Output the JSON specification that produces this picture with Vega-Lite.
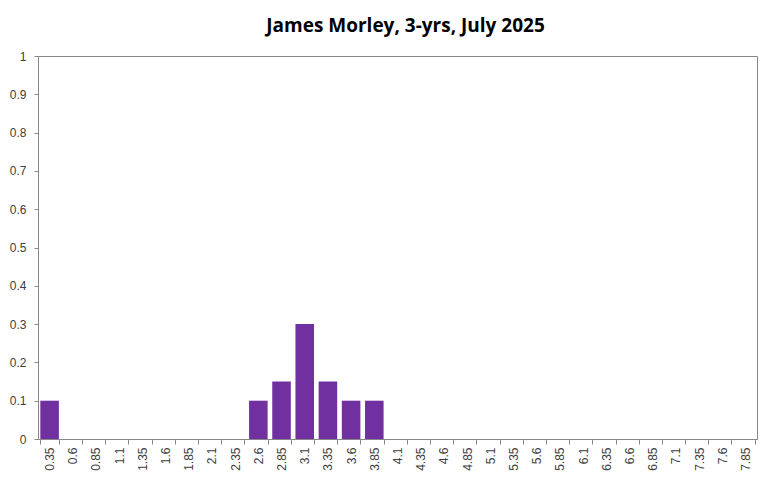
{
  "$schema": "https://vega.github.io/schema/vega-lite/v6.json",
  "width": 719,
  "height": 383,
  "autosize": {"type": "none"},
  "padding": {"left": 38, "top": 56, "right": 15, "bottom": 43},
  "background": "white",
  "title": {
    "text": "James Morley, 3-yrs, July 2025",
    "font": "Open Sans",
    "fontSize": 19,
    "fontWeight": "bold",
    "color": "#000000",
    "anchor": "middle",
    "dx": 8,
    "offset": 14
  },
  "data": {
    "values": [
      {"k": "0.35", "v": 0.1},
      {"k": "0.6", "v": 0},
      {"k": "0.85", "v": 0},
      {"k": "1.1", "v": 0},
      {"k": "1.35", "v": 0},
      {"k": "1.6", "v": 0},
      {"k": "1.85", "v": 0},
      {"k": "2.1", "v": 0},
      {"k": "2.35", "v": 0},
      {"k": "2.6", "v": 0.1},
      {"k": "2.85", "v": 0.15},
      {"k": "3.1", "v": 0.3},
      {"k": "3.35", "v": 0.15},
      {"k": "3.6", "v": 0.1},
      {"k": "3.85", "v": 0.1},
      {"k": "4.1", "v": 0},
      {"k": "4.35", "v": 0},
      {"k": "4.6", "v": 0},
      {"k": "4.85", "v": 0},
      {"k": "5.1", "v": 0},
      {"k": "5.35", "v": 0},
      {"k": "5.6", "v": 0},
      {"k": "5.85", "v": 0},
      {"k": "6.1", "v": 0},
      {"k": "6.35", "v": 0},
      {"k": "6.6", "v": 0},
      {"k": "6.85", "v": 0},
      {"k": "7.1", "v": 0},
      {"k": "7.35", "v": 0},
      {"k": "7.6", "v": 0},
      {"k": "7.85", "v": 0}
    ]
  },
  "mark": {"type": "bar", "color": "#7030A0"},
  "encoding": {
    "x": {
      "field": "k",
      "type": "ordinal",
      "sort": null,
      "scale": {"paddingInner": 0.2, "paddingOuter": 0.1},
      "axis": {
        "title": null,
        "labelAngle": -90,
        "labelAlign": "right",
        "labelBaseline": "middle",
        "labelFont": "Liberation Sans",
        "labelFontSize": 12,
        "labelColor": "#404040",
        "labelPadding": 3,
        "tickBand": "extent",
        "tickColor": "#888888",
        "tickSize": 5,
        "domainColor": "#888888",
        "grid": false
      }
    },
    "y": {
      "field": "v",
      "type": "quantitative",
      "scale": {"domain": [0, 1], "nice": false},
      "axis": {
        "title": null,
        "values": [0, 0.1, 0.2, 0.3, 0.4, 0.5, 0.6, 0.7, 0.8, 0.9, 1],
        "format": "~g",
        "labelFont": "Liberation Sans",
        "labelFontSize": 12,
        "labelColor": "#404040",
        "labelPadding": 8,
        "tickColor": "#888888",
        "tickSize": 4,
        "domainColor": "#888888",
        "grid": false
      }
    }
  },
  "config": {
    "view": {"stroke": "#888888", "strokeWidth": 1}
  }
}
